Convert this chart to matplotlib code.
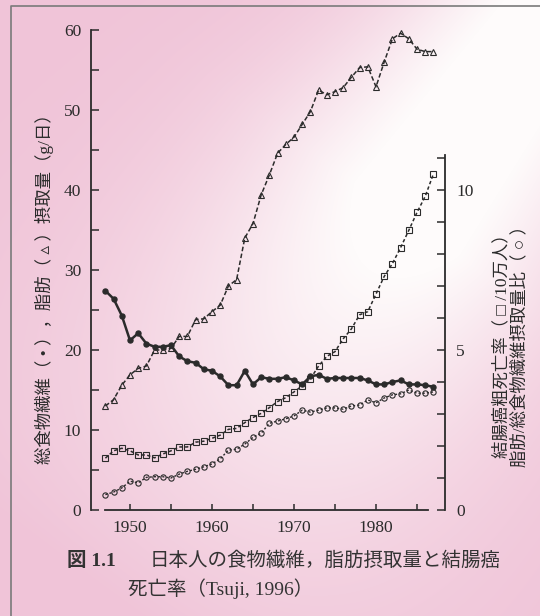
import numpy as np
import matplotlib
matplotlib.use('Agg')
import matplotlib.pyplot as plt
from matplotlib.ticker import FixedLocator

plt.rcParams['font.family'] = ['Liberation Serif', 'Noto Sans CJK JP', 'DejaVu Sans']

# ---- data ----
years = list(range(1947, 1988))

fiber = [27.4, 26.4, 24.3, 21.2, 22.1, 20.8, 20.4, 20.4, 20.6, 19.2,
         18.6, 18.4, 17.6, 17.4, 16.7, 15.6, 15.6, 17.4, 15.7, 16.6,
         16.4, 16.4, 16.6, 16.2, 15.7, 16.7, 16.9, 16.4, 16.5, 16.5,
         16.5, 16.5, 16.2, 15.7, 15.7, 16.0, 16.2, 15.7, 15.7, 15.6, 15.4]

fat = [13.0, 13.8, 15.6, 16.9, 17.7, 18.0, 20.0, 20.0, 20.2, 21.7,
       21.7, 23.8, 23.9, 24.8, 25.6, 28.0, 28.8, 34.0, 35.8, 39.4,
       41.9, 44.6, 45.7, 46.6, 48.2, 49.8, 52.5, 51.9, 52.3, 52.8,
       54.1, 55.3, 55.4, 52.9, 56.0, 58.9, 59.6, 58.9, 57.6, 57.3, 57.3]

# colon cancer crude death rate (per 100,000), right axis
mortality = [1.62, 1.85, 1.93, 1.85, 1.72, 1.72, 1.63, 1.75, 1.85, 1.97,
             1.97, 2.12, 2.15, 2.24, 2.34, 2.52, 2.55, 2.73, 2.89, 3.02,
             3.20, 3.39, 3.51, 3.69, 3.88, 4.10, 4.50, 4.80, 4.95, 5.35,
             5.66, 6.10, 6.20, 6.75, 7.30, 7.70, 8.20, 8.74, 9.30, 9.80, 10.5]

# fat / total fiber ratio, right axis
ratio = [0.48, 0.56, 0.69, 0.90, 0.85, 1.02, 1.04, 1.04, 1.00, 1.12,
         1.21, 1.27, 1.35, 1.44, 1.60, 1.87, 1.90, 2.06, 2.27, 2.40,
         2.71, 2.78, 2.85, 2.94, 3.12, 3.06, 3.12, 3.19, 3.19, 3.15,
         3.25, 3.28, 3.44, 3.35, 3.50, 3.60, 3.63, 3.75, 3.65, 3.65, 3.69]

W, H = 540, 616
fig = plt.figure(figsize=(W / 100, H / 100), dpi=100)


def fx(px):
    return px / W


def fy(py):
    return 1 - py / H


# ---- pink paper background with a diagonal glare ----
bg = fig.add_axes([0, 0, 1, 1], zorder=-10)
yy, xx = np.mgrid[0:H, 0:W].astype(float)
ux, uy = -0.58, 0.81
dx, dy = xx - 570, yy + 10
t = dx * ux + dy * uy
d = dx * uy - dy * ux
along = np.clip(1 - (t - 280) / 480, 0, 1)
along = np.where(t < 280, 1.0, along)
glare = np.exp(-(d / (120 + 0.18 * np.clip(t, 0, None))) ** 2) * along
glare = np.clip(glare * 1.15, 0, 1)
pink = np.array([240, 196, 216]) / 255
white = np.array([254, 251, 251]) / 255
img = pink[None, None, :] * (1 - glare[..., None]) + white[None, None, :] * glare[..., None]
bg.imshow(img, extent=[0, W, H, 0], aspect='auto')
bg.plot([11, 11, W], [H, 6, 6], color='#7a7a7a', lw=1.2)
bg.set_xlim(0, W)
bg.set_ylim(H, 0)
bg.axis('off')

# ---- main axes ----
ink = '#2b2b2b'
ax = fig.add_axes([fx(91), fy(510), fx(445) - fx(91), fy(30) - fy(510)])
ax.patch.set_alpha(0)
ax.set_xlim(1950 - 39 / 8.2, 1950 + (445 - 130) / 8.2)
ax.set_ylim(0, 60)

ax.plot(years, fat, color=ink, lw=1.1, dashes=(3, 1.6), marker='^', ms=4,
        mfc='none', mew=0.8, clip_on=False)
ax.plot(years, fiber, color=ink, lw=1.8, marker='o', ms=3.6, mfc=ink,
        mec=ink, clip_on=False)

ax2 = ax.twinx()
ax2.set_ylim(0, 15)
ax2.plot(years, mortality, color=ink, lw=1.1, dashes=(2.2, 1.6), marker='s',
         ms=3.8, mfc='none', mew=0.8, clip_on=False)
ax2.plot(years, ratio, color=ink, lw=1.0, dashes=(1.5, 1.5), marker='o',
         ms=3.8, mfc='none', mew=0.8, clip_on=False)

for a in (ax, ax2):
    a.spines['top'].set_visible(False)
ax.spines['right'].set_visible(False)
ax2.spines['left'].set_visible(False)
ax2.spines['bottom'].set_visible(False)
ax.spines['left'].set_bounds(0, 60)
ax.spines['bottom'].set_bounds(1947, 1986.3)
ax2.spines['right'].set_bounds(0, 11.1)
for s in (ax.spines['left'], ax.spines['bottom'], ax2.spines['right']):
    s.set_color(ink)
    s.set_linewidth(1.3)

ax.yaxis.set_major_locator(FixedLocator([0, 10, 20, 30, 40, 50, 60]))
ax.yaxis.set_minor_locator(FixedLocator([5, 15, 25, 35, 45, 55]))
ax.xaxis.set_major_locator(FixedLocator([1950, 1960, 1970, 1980]))
ax.xaxis.set_minor_locator(FixedLocator([1955, 1965, 1975, 1985]))
ax2.yaxis.set_major_locator(FixedLocator([0, 5, 10]))
ax2.yaxis.set_minor_locator(FixedLocator([1, 2, 3, 4, 6, 7, 8, 9, 11]))

ax.tick_params(axis='y', which='both', direction='in', length=6, width=1.1,
               color=ink, labelsize=12.5, labelcolor=ink, pad=7)
ax.tick_params(axis='x', which='both', direction='in', length=4, width=1.1,
               color=ink, labelsize=12.5, labelcolor=ink, pad=7)
ax2.tick_params(axis='y', which='both', direction='in', length=6, width=1.1,
                color=ink, labelsize=12.5, labelcolor=ink, pad=8)

# ---- axis titles ----
fig.text(fx(44), fy(285), '総食物繊維（ • ），脂肪（ ▵ ）摂取量（g/日）', rotation=90,
         ha='center', va='center', fontsize=12.5, color=ink)
fig.text(fx(511), fy(342), '結腸癌粗死亡率（ □ /10万人）\n脂肪/総食物繊維摂取量比（ ○ ）',
         rotation=90, ha='center', va='center', fontsize=12.5, color=ink,
         linespacing=1.1)

# ---- caption ----
cap = '#333333'
fig.text(fx(67), fy(561), '図 1.1', ha='left', va='center', fontsize=14,
         fontweight='bold', color=cap)
fig.text(fx(150), fy(561), '日本人の食物繊維，脂肪摂取量と結腸癌', ha='left',
         va='center', fontsize=14, color=cap)
fig.text(fx(128), fy(589), '死亡率（Tsuji, 1996）', ha='left', va='center',
         fontsize=14, color=cap)

fig.savefig('out.png', dpi=100)
